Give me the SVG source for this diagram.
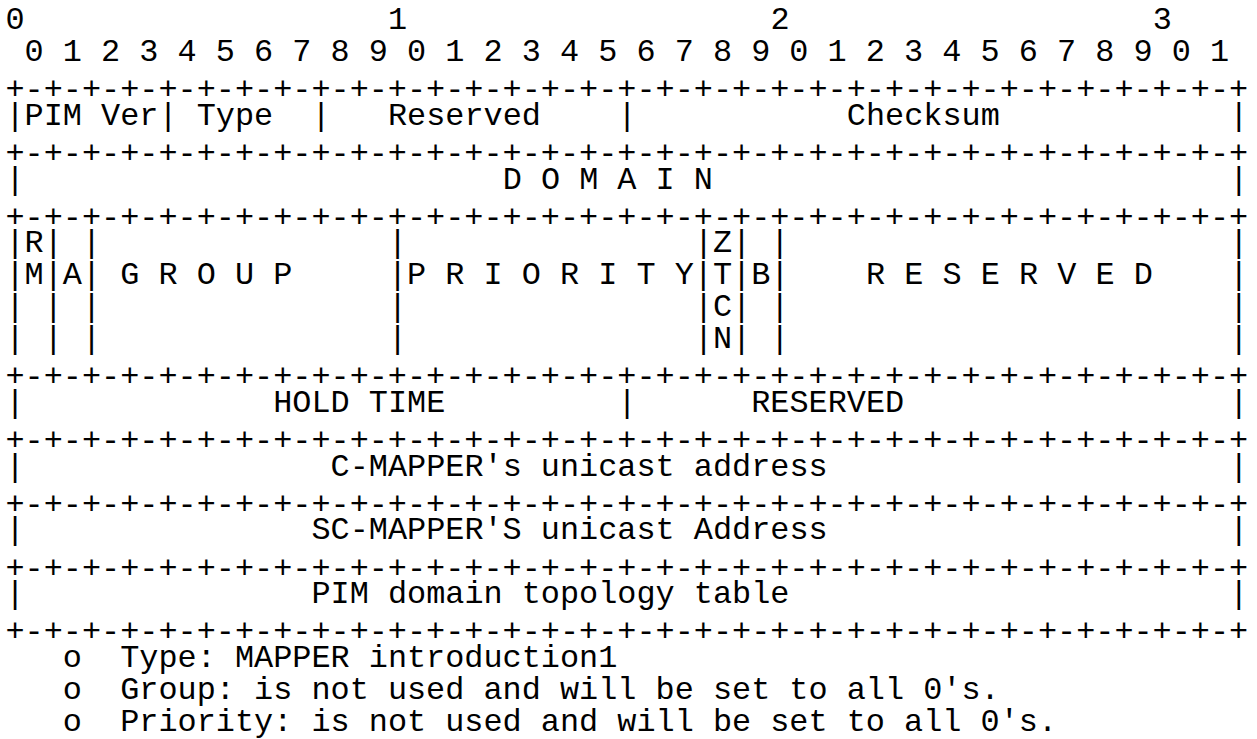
<svg xmlns="http://www.w3.org/2000/svg" width="1257" height="739" viewBox="0 0 1257 739">
<style>
text{font-family:"Liberation Mono","Courier New",monospace;font-size:31.87px;fill:#000;white-space:pre}
</style>
<rect width="1257" height="739" fill="#fff"/>
<g id="bit-ruler">
<text x="5.5" y="29">0</text>
<text x="387.94" y="29">1</text>
<text x="770.38" y="29">2</text>
<text x="1152.82" y="29">3</text>
<text x="5.5" y="60.9" xml:space="preserve"> 0 1 2 3 4 5 6 7 8 9 0 1 2 3 4 5 6 7 8 9 0 1 2 3 4 5 6 7 8 9 0 1</text>
</g>
<g id="borders">
<text x="5.5" y="99">+-+-+-+-+-+-+-+-+-+-+-+-+-+-+-+-+-+-+-+-+-+-+-+-+-+-+-+-+-+-+-+-+</text>
<text x="5.5" y="162.8">+-+-+-+-+-+-+-+-+-+-+-+-+-+-+-+-+-+-+-+-+-+-+-+-+-+-+-+-+-+-+-+-+</text>
<text x="5.5" y="226.6">+-+-+-+-+-+-+-+-+-+-+-+-+-+-+-+-+-+-+-+-+-+-+-+-+-+-+-+-+-+-+-+-+</text>
<text x="5.5" y="386.1">+-+-+-+-+-+-+-+-+-+-+-+-+-+-+-+-+-+-+-+-+-+-+-+-+-+-+-+-+-+-+-+-+</text>
<text x="5.5" y="449.9">+-+-+-+-+-+-+-+-+-+-+-+-+-+-+-+-+-+-+-+-+-+-+-+-+-+-+-+-+-+-+-+-+</text>
<text x="5.5" y="513.7">+-+-+-+-+-+-+-+-+-+-+-+-+-+-+-+-+-+-+-+-+-+-+-+-+-+-+-+-+-+-+-+-+</text>
<text x="5.5" y="577.5">+-+-+-+-+-+-+-+-+-+-+-+-+-+-+-+-+-+-+-+-+-+-+-+-+-+-+-+-+-+-+-+-+</text>
<text x="5.5" y="641.3">+-+-+-+-+-+-+-+-+-+-+-+-+-+-+-+-+-+-+-+-+-+-+-+-+-+-+-+-+-+-+-+-+</text>
</g>
<g id="row-header">
<text x="5.5" y="124.7">|PIM Ver|</text>
<text x="196.72" y="124.7">Type</text>
<text x="311.45" y="124.7">|</text>
<text x="387.94" y="124.7">Reserved</text>
<text x="617.4" y="124.7">|</text>
<text x="846.87" y="124.7">Checksum</text>
<text x="1229.31" y="124.7">|</text>
</g>
<g id="row-domain">
<text x="5.5" y="188.5">|</text>
<text x="502.67" y="188.5">D O M A I N</text>
<text x="1229.31" y="188.5">|</text>
</g>
<g id="row-flags">
<text x="5.5" y="252.3">|R| |</text>
<text x="5.5" y="284.2">|M|A|</text>
<text x="5.5" y="316.1">| | |</text>
<text x="5.5" y="348">| | |</text>
<text x="120.23" y="284.2">G R O U P</text>
<text x="387.94" y="252.3">|</text>
<text x="387.94" y="284.2">|P R I O R I T Y|T|B|</text>
<text x="387.94" y="316.1">|</text>
<text x="387.94" y="348">|</text>
<text x="693.89" y="252.3">|Z| |</text>
<text x="693.89" y="316.1">|C| |</text>
<text x="693.89" y="348">|N| |</text>
<text x="865.99" y="284.2">R E S E R V E D</text>
<text x="1229.31" y="252.3">|</text>
<text x="1229.31" y="284.2">|</text>
<text x="1229.31" y="316.1">|</text>
<text x="1229.31" y="348">|</text>
</g>
<g id="row-hold">
<text x="5.5" y="411.8">|</text>
<text x="273.21" y="411.8">HOLD TIME</text>
<text x="617.4" y="411.8">|</text>
<text x="751.26" y="411.8">RESERVED</text>
<text x="1229.31" y="411.8">|</text>
</g>
<g id="row-cmapper">
<text x="5.5" y="475.6">|</text>
<text x="330.57" y="475.6">C-MAPPER's unicast address</text>
<text x="1229.31" y="475.6">|</text>
</g>
<g id="row-scmapper">
<text x="5.5" y="539.4">|</text>
<text x="311.45" y="539.4">SC-MAPPER'S unicast Address</text>
<text x="1229.31" y="539.4">|</text>
</g>
<g id="row-topology">
<text x="5.5" y="603.2">|</text>
<text x="311.45" y="603.2">PIM domain topology table</text>
<text x="1229.31" y="603.2">|</text>
</g>
<g id="notes">
<text x="62.87" y="667">o</text>
<text x="120.23" y="667">Type: MAPPER introduction1</text>
<text x="62.87" y="698.9">o</text>
<text x="120.23" y="698.9">Group: is not used and will be set to all 0's.</text>
<text x="62.87" y="730.8">o</text>
<text x="120.23" y="730.8">Priority: is not used and will be set to all 0's.</text>
</g>
</svg>
